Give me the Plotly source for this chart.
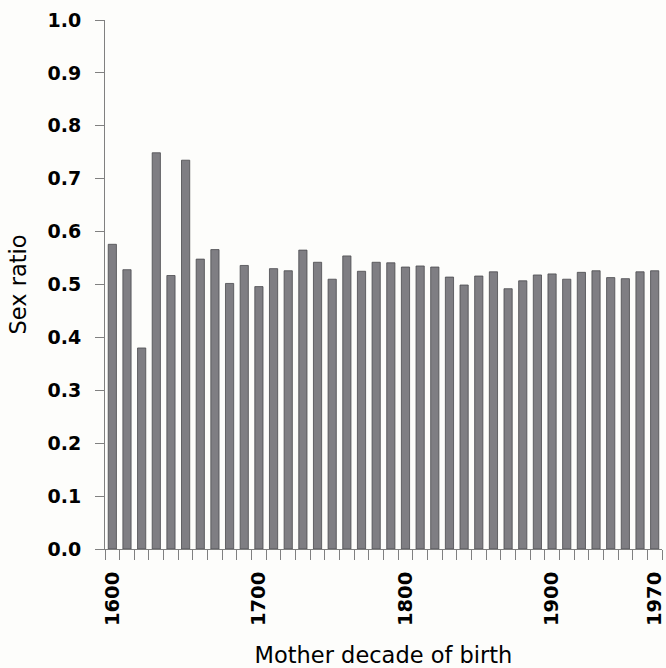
import plotly.graph_objects as go

# Sex ratio of offspring by mother's decade of birth
decades = [str(y) for y in range(1600, 1980, 10)]
sex_ratio = [
    0.576, 0.528, 0.380, 0.749, 0.517, 0.735, 0.548, 0.566, 0.502, 0.536,
    0.496, 0.530, 0.526, 0.565, 0.542, 0.510, 0.554, 0.525, 0.542, 0.541,
    0.533, 0.535, 0.533, 0.514, 0.499, 0.516, 0.524, 0.492, 0.507, 0.518,
    0.520, 0.510, 0.523, 0.526, 0.513, 0.511, 0.524, 0.526,
]
labelled_decades = ["1600", "1700", "1800", "1900", "1970"]
x_tick_text = [d if d in labelled_decades else "" for d in decades]
y_ticks = [i / 10 for i in range(0, 11)]
y_tick_text = [f"{v:.1f}" for v in y_ticks]

fig = go.Figure(
    go.Bar(
        x=decades,
        y=sex_ratio,
        marker=dict(color="#7f7e83", line=dict(color="#4a4a4e", width=0.8)),
        width=0.56,
    )
)

x_tick_font = dict(family="DejaVu Sans", size=19.5, color="black", weight="bold")
y_tick_font = dict(family="DejaVu Sans", size=19, color="black", weight="bold")
title_font = dict(family="DejaVu Sans", size=22.5, color="black")

fig.update_layout(
    width=666,
    height=668,
    margin=dict(l=105, r=0, t=20, b=118),
    paper_bgcolor="#fdfdfb",
    plot_bgcolor="#fdfdfb",
    showlegend=False,
    xaxis=dict(
        type="category",
        range=[-0.5, 37.5],
        tickmode="array",
        tickvals=decades,
        ticktext=x_tick_text,
        tickson="boundaries",
        ticks="outside",
        ticklen=10,
        tickcolor="#808080",
        tickangle=-90,
        tickfont=x_tick_font,
        ticklabelstandoff=14,
        showline=True,
        linecolor="#808080",
        linewidth=1,
        showgrid=False,
        zeroline=False,
        title=dict(text="Mother decade of birth", font=title_font, standoff=26),
    ),
    yaxis=dict(
        range=[0, 1.0],
        tickmode="array",
        tickvals=y_ticks,
        ticktext=y_tick_text,
        ticks="outside",
        ticklen=9,
        tickcolor="#808080",
        tickfont=y_tick_font,
        ticklabelstandoff=10,
        showline=True,
        linecolor="#808080",
        linewidth=1,
        showgrid=False,
        zeroline=False,
        title=dict(text="Sex ratio", font=title_font, standoff=14),
    ),
)

fig.write_html("out.html")
